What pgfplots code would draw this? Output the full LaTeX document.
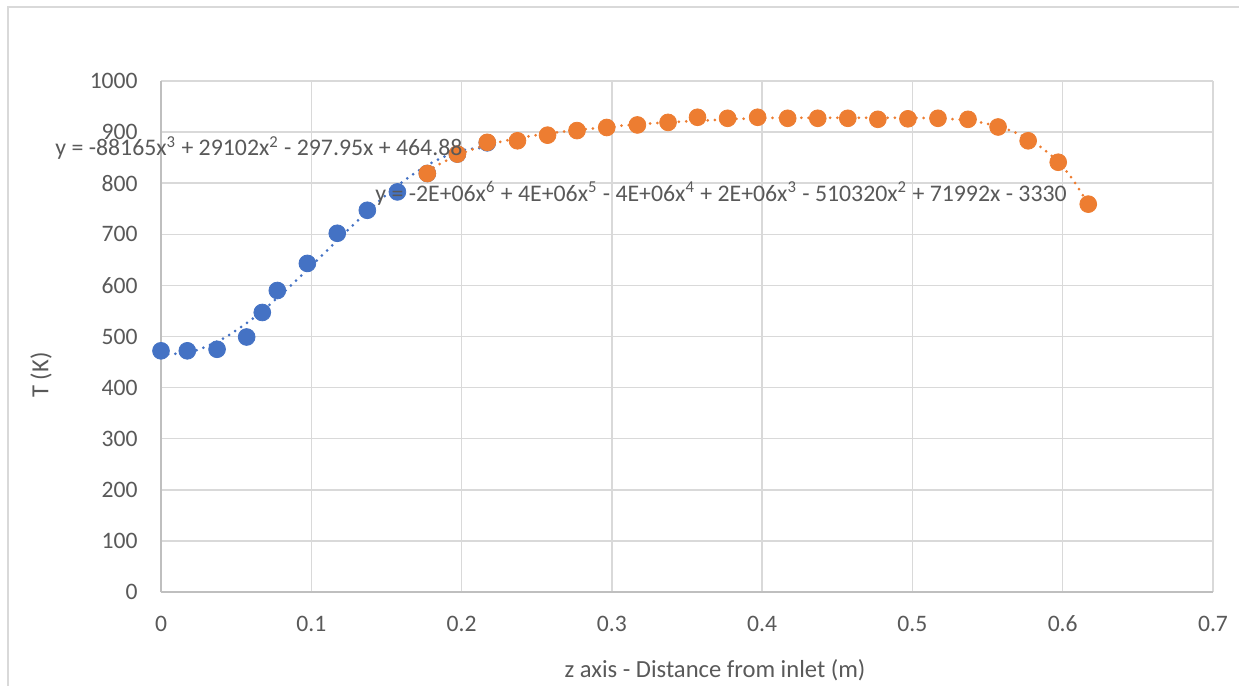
\documentclass[border=0pt]{standalone}
\usepackage{fontspec}
\setmainfont{Carlito}
\usepackage{pgfplots}
\pgfplotsset{compat=1.18}
\definecolor{txt}{HTML}{595959}
\definecolor{gridc}{HTML}{D9D9D9}
\definecolor{axc}{HTML}{BFBFBF}
\definecolor{bl}{HTML}{4472C4}
\definecolor{orc}{HTML}{ED7D31}
\begin{document}
\begin{tikzpicture}
\fontsize{11.7bp}{14bp}\selectfont
\begin{axis}[
  scale only axis,
  width=526bp, height=255.5bp,
  xmin=0, xmax=0.7, ymin=0, ymax=1000,
  xtick={0,0.1,...,0.7},
  ytick={0,100,...,1000},
  xticklabels={0,0.1,0.2,0.3,0.4,0.5,0.6,0.7},
  yticklabels={0,100,200,300,400,500,600,700,800,900,1000},
  axis lines*=left,
  axis line style={draw=axc, line width=0.75bp, -},
  grid=major,
  major grid style={draw=gridc, line width=0.75bp},
  major tick length=0pt,
  /pgf/number format/assume math mode=true,
  /pgf/number format/1000 sep={},
  ticklabel style={font=\fontsize{11.8bp}{14bp}\selectfont, text=txt, inner sep=0pt},
  xticklabel style={anchor=base, yshift=-19.5bp},
  yticklabel style={anchor=east, xshift=-11.5bp},
  clip=false,
]
% blue data (first series)
\addplot[only marks, mark=*, mark size=4.2bp, mark options={fill=bl, draw=bl}] coordinates {
(0,472) (0.0175,472) (0.0373,475) (0.057,499) (0.0674,547) (0.0774,590)
(0.0974,643) (0.1173,702) (0.1373,747) (0.1573,783)
(0.1772,819) (0.1972,857) (0.2171,879)
};
% orange data (second series)
\addplot[only marks, mark=*, mark size=4.2bp, mark options={fill=orc, draw=orc}] coordinates {
(0.1772,819) (0.1972,857) (0.2171,880) (0.2372,883) (0.2572,894) (0.2768,903)
(0.2966,909) (0.3170,914) (0.3374,919) (0.357,929) (0.377,927) (0.397,929)
(0.417,927) (0.437,927) (0.457,927) (0.477,925) (0.497,926) (0.517,927)
(0.537,925) (0.557,910) (0.577,883) (0.597,841) (0.617,759)
};
% blue polynomial trendline (values of the displayed cubic)
\addplot[bl, line width=1.5bp, line cap=round, dash pattern=on 0pt off 3.6bp, smooth] coordinates {
(0,464.9) (0.02,469.9) (0.04,493.9) (0.06,532.7) (0.08,582.2) (0.10,637.9)
(0.12,695.9) (0.14,751.7) (0.16,801.1) (0.18,840.0) (0.20,864.1) (0.2171,869.7)
};
% orange polynomial trendline
\addplot[orc, line width=1.5bp, line cap=round, dash pattern=on 0pt off 3.6bp, smooth] coordinates {
(0.1772,823) (0.187,840) (0.197,854) (0.207,866) (0.217,875) (0.237,888)
(0.257,897) (0.277,904) (0.297,910) (0.317,915) (0.337,919) (0.357,922)
(0.377,925) (0.397,927) (0.417,928) (0.437,928) (0.457,928) (0.477,928)
(0.497,928) (0.517,927) (0.537,923) (0.547,918) (0.557,911) (0.567,901)
(0.577,887) (0.587,867) (0.597,842) (0.607,806) (0.617,759)
};
\end{axis}
% trendline equations
\fontsize{11.9bp}{14bp}\selectfont
\node[anchor=base west, inner sep=0pt, text=txt] at (-53bp,218bp)
  {y = -88165x\textsuperscript{3} + 29102x\textsuperscript{2} - 297.95x + 464.88};
\node[anchor=base west, inner sep=0pt, text=txt] at (107bp,195.2bp)
  {y = -2E+06x\textsuperscript{6} + 4E+06x\textsuperscript{5} - 4E+06x\textsuperscript{4} + 2E+06x\textsuperscript{3} - 510320x\textsuperscript{2} + 71992x - 3330};
% axis titles
\fontsize{12.3bp}{15bp}\selectfont
\node[anchor=base, inner sep=0pt, text=txt] at (277bp,-42.5bp) {z axis - Distance from inlet (m)};
\node[rotate=90, inner sep=0pt, text=txt] at (-60bp,108.5bp) {T (K)};
% chart border
\draw[gridc, line width=0.75bp] (-76.5bp,-60bp) -- (-76.5bp,292.5bp) -- (560bp,292.5bp);
\pgfresetboundingbox
\path (-80.5bp,-47bp) rectangle (539bp,296bp);
\end{tikzpicture}
\end{document}
